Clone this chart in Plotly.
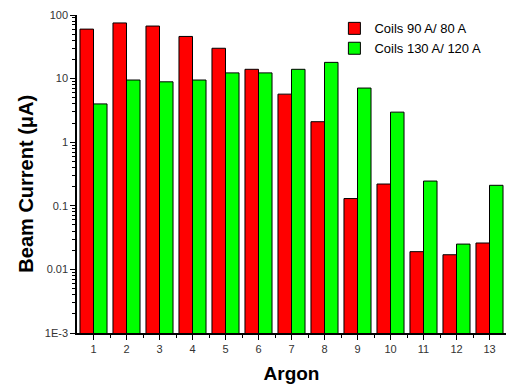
import plotly.graph_objects as go

categories = list(range(1, 14))
coils_90_80 = [60, 75, 67, 46, 30, 14, 5.7, 2.1, 0.13, 0.22, 0.019, 0.017, 0.026]
coils_130_120 = [4.0, 9.5, 8.9, 9.5, 12.3, 12.3, 14, 18, 7.1, 2.97, 0.245, 0.025, 0.21]
y_tickvals = [0.001, 0.01, 0.1, 1, 10, 100]
y_ticktext = ["1E-3", "0.01", "0.1", "1", "10", "100"]

y_minor = [m * 10 ** k for k in range(-3, 2) for m in range(2, 10)]
x_minor = [c + 0.5 for c in categories[:-1]]

fig = go.Figure()
fig.add_trace(go.Bar(x=categories, y=coils_90_80, name="Coils 90 A/ 80 A",
                     marker=dict(color="#ff0000", line=dict(color="#000000", width=1))))
fig.add_trace(go.Bar(x=categories, y=coils_130_120, name="Coils 130 A/ 120 A",
                     marker=dict(color="#00ff00", line=dict(color="#000000", width=1))))

fig.update_layout(
    width=506, height=387,
    margin=dict(l=77, r=0, t=15, b=54),
    paper_bgcolor="white", plot_bgcolor="white",
    barmode="group", bargap=0.18, bargroupgap=0,
    font=dict(family="Liberation Sans, Arial, sans-serif", color="#000"),
    legend=dict(x=0.60, y=1.005, xanchor="left", yanchor="top",
                font=dict(size=13, color="#000"), bgcolor="rgba(0,0,0,0)",
                tracegroupgap=0),
    xaxis=dict(
        range=[0.5, 13.5], tickmode="array", tickvals=categories,
        ticktext=[str(c) for c in categories],
        ticks="outside", ticklen=5, tickwidth=1, tickcolor="#000",
        showline=True, linecolor="#000", linewidth=1.5, showgrid=False, zeroline=False,
        tickfont=dict(size=11, color="#333"),
        minor=dict(tickmode="array", tickvals=x_minor, ticks="outside", ticklen=3,
                   tickcolor="#000", showgrid=False),
        title=dict(text="<b>Argon</b>", font=dict(size=19, color="#000"), standoff=13),
    ),
    yaxis=dict(
        type="log", range=[-3, 2], tickmode="array", tickvals=y_tickvals, ticktext=y_ticktext,
        ticks="outside", ticklen=5, tickwidth=1, tickcolor="#000",
        showline=True, linecolor="#000", linewidth=1.5, showgrid=False, zeroline=False,
        tickfont=dict(size=11, color="#333"),
        minor=dict(tickmode="array", tickvals=y_minor, ticks="outside", ticklen=3,
                   tickcolor="#000", showgrid=False),
    ),
    annotations=[dict(
        text="<b>Beam Current (μA)</b>", textangle=-90, showarrow=False,
        xref="paper", yref="paper", x=-0.121, y=0.47, xanchor="center", yanchor="middle",
        font=dict(size=20, color="#000"),
    )],
)

fig.write_html("out.html", config={"displayModeBar": False})

with open("out.html", "r", encoding="utf-8") as f:
    html = f.read()
html = html.replace("<head>", "<head><style>html,body{margin:0;padding:0;overflow:hidden;}</style>", 1)
with open("out.html", "w", encoding="utf-8") as f:
    f.write(html)
